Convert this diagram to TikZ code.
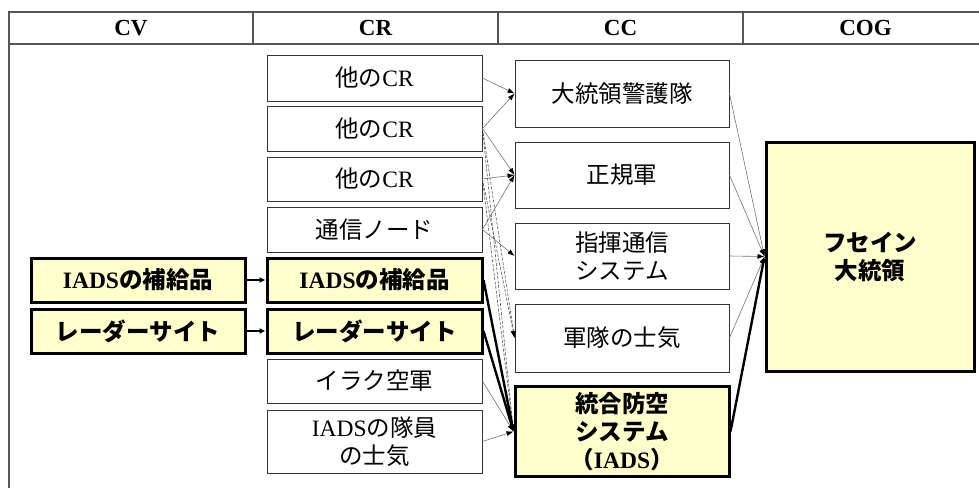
\documentclass[tikz,border=0pt]{standalone}
\usepackage{fontspec}
\setmainfont{Liberation Serif}
\newfontfamily\jp{Noto Sans CJK JP}
\usetikzlibrary{arrows.meta}
\definecolor{ylw}{RGB}{255,255,204}
\definecolor{tline}{RGB}{85,85,85}
\newcommand{\J}[1]{{\jp #1}}
\begin{document}
\begin{tikzpicture}[x=1pt,y=-1pt,
  hdr/.style={font=\fontsize{23}{26}\selectfont\bfseries, inner sep=0pt},
  box/.style={draw=black!80, line width=0.9pt, fill=white, align=center, inner sep=0pt,
    font=\fontsize{23.5}{28}\selectfont},
  keybox/.style={box, draw=black, line width=3pt, fill=ylw,
    font=\fontsize{23.5}{28}\selectfont\bfseries},
  thinarr/.style={draw=black!55, line width=0.6pt, -{Latex[length=7pt,width=5pt,color=black]}},
  steeparr/.style={thinarr, draw=black!65, dashed, dash pattern=on 3pt off 1.5pt},
  thickarr/.style={draw=black, line width=2.4pt, -{Latex[length=6pt,width=5pt]}},
  cvarr/.style={draw=black, line width=1.6pt, -{Latex[length=6pt,width=6pt]}}
]
\useasboundingbox (0,0) rectangle (979,488);
% table
\draw[tline, line width=1.1pt] (979,12) -- (9,12) -- (9,488);
\draw[tline, line width=1.1pt] (9,44) -- (979,44);
\foreach \xx in {253,498,743} \draw[tline, line width=1.1pt] (\xx,12) -- (\xx,44);
\node[hdr] (hcv) at (131,28) {CV};
\node[hdr] (hcr) at (375.5,28) {CR};
\node[hdr] (hcc) at (620.5,28) {CC};
\node[hdr] (hcog) at (865.5,28) {COG};
% CV
\node[keybox, minimum width=214, minimum height=44] (cv1) at (138,280) {IADS\J{の補給品}};
\node[keybox, minimum width=214, minimum height=44] (cv2) at (138,331) {\J{レーダーサイト}};
% CR
\node[box, minimum width=215, minimum height=46] (cr1) at (374.5,78) {\J{他の}CR};
\node[box, minimum width=215, minimum height=45] (cr2) at (374.5,128.5) {\J{他の}CR};
\node[box, minimum width=215, minimum height=44] (cr3) at (374.5,179) {\J{他の}CR};
\node[box, minimum width=215, minimum height=45] (cr4) at (374.5,229.5) {\J{通信ノード}};
\node[keybox, minimum width=215, minimum height=44] (cr5) at (374.5,280) {IADS\J{の補給品}};
\node[keybox, minimum width=215, minimum height=44] (cr6) at (374.5,331) {\J{レーダーサイト}};
\node[box, minimum width=215, minimum height=44] (cr7) at (374.5,381) {\J{イラク空軍}};
\node[box, minimum width=215, minimum height=63] (cr8) at (374.5,441.5) {IADS\J{の隊員}\\\J{の士気}};
% CC
\node[box, minimum width=214, minimum height=67] (cc1) at (622,93.5) {\J{大統領警護隊}};
\node[box, minimum width=214, minimum height=66] (cc2) at (622,175) {\J{正規軍}};
\node[box, minimum width=214, minimum height=66] (cc3) at (622,256) {\J{指揮通信}\\\J{システム}};
\node[box, minimum width=214, minimum height=68] (cc4) at (622,338) {\J{軍隊の士気}};
\node[keybox, minimum width=214, minimum height=90] (cc5) at (622,431.5) {\J{統合防空}\\\J{システム}\\\J{（}IADS\J{）}};
% COG
\node[keybox, minimum width=208, minimum height=229] (cog) at (870,256.5) {\J{フセイン}\\\J{大統領}};
% CV -> CR
\draw[cvarr] (cv1.east) -- (cr5.west);
\draw[cvarr] (cv2.east) -- (cr6.west);
% CR -> CC
\draw[thinarr] (cr1.east) -- (cc1.west);
\draw[thinarr] (cr2.east) -- (cc1.west);
\draw[thinarr] (cr2.east) -- (cc2.west);
\draw[thinarr] (cr3.east) -- (cc2.west);
\draw[thinarr] (cr4.east) -- (cc2.west);
\draw[thinarr] (cr4.east) -- (cc3.west);
\draw[steeparr] (cr2.east) -- (cc4.west);
\draw[steeparr] (cr2.east) -- (cc5.west);
\draw[steeparr] (cr3.east) -- (cc4.west);
\draw[steeparr] (cr3.east) -- (cc5.west);
\draw[thinarr] (cr7.east) -- (cc5.west);
\draw[thinarr] (cr8.east) -- (cc5.west);
\draw[thickarr] (cr5.east) -- (cc5.west);
\draw[thickarr] (cr6.east) -- (cc5.west);
% CC -> COG
\draw[thinarr] (cc1.east) -- (cog.west);
\draw[thinarr] (cc2.east) -- (cog.west);
\draw[thinarr] (cc3.east) -- (cog.west);
\draw[thinarr] (cc4.east) -- (cog.west);
\draw[thickarr] (cc5.east) -- (cog.west);
\end{tikzpicture}
\end{document}
